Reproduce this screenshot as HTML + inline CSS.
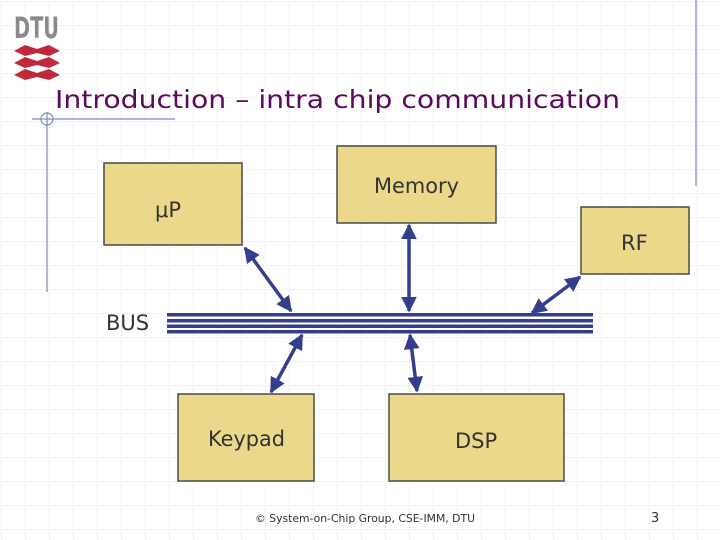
<!DOCTYPE html>
<html><head><meta charset="utf-8"><style>
html,body{margin:0;padding:0;background:#fff}
svg{display:block}
text{font-family:"DejaVu Sans","Liberation Sans",sans-serif}
</style></head><body>
<svg width="720" height="540" viewBox="0 0 720 540" xmlns="http://www.w3.org/2000/svg">
<defs>
<pattern id="g" x="1" y="1" width="24" height="24" patternUnits="userSpaceOnUse">
<path d="M0 0H24M0 0V24" stroke="#cfcfcf" stroke-width="1" stroke-dasharray="1 1" fill="none"/>
</pattern>
<marker id="a" viewBox="0 0 10 10" refX="9" refY="5" markerWidth="4.5" markerHeight="4.5" orient="auto-start-reverse">
<path d="M0 0L10 5L0 10z" fill="#333f8c"/>
</marker>
</defs>
<rect width="720" height="540" fill="url(#g)"/>
<text x="14" y="38" font-size="29" font-weight="bold" fill="#8a8a8a" textLength="45" lengthAdjust="spacingAndGlyphs">DTU</text>
<g fill="#c0283c">
<path d="M14 51 L25 45 L37 49 L49 45 L60 51 L49 56 L37 53 L25 56Z"/>
<path d="M14 63 L25 57 L37 61 L49 57 L60 63 L49 68 L37 65 L25 68Z"/>
<path d="M14 75 L25 69 L37 73 L49 69 L60 75 L49 80 L37 77 L25 80Z"/>
</g>
<text x="55" y="108" font-size="25" fill="#5a0a5a" textLength="565" lengthAdjust="spacingAndGlyphs">Introduction – intra chip communication</text>
<g stroke="#7f8cb4" stroke-width="1.2" fill="none">
<line x1="32" y1="119" x2="175" y2="119"/>
<line x1="47" y1="112" x2="47" y2="292"/>
<circle cx="47" cy="119" r="6"/>
<line x1="696" y1="0" x2="696" y2="186"/>
</g>
<g fill="#ecd88a" stroke="#4a4a4a" stroke-width="1.5">
<rect x="104" y="163" width="138" height="82"/>
<rect x="337" y="146" width="159" height="77"/>
<rect x="581" y="207" width="108" height="67"/>
<rect x="178" y="394" width="136" height="87"/>
<rect x="389" y="394" width="175" height="87"/>
</g>
<g font-size="21" fill="#333">
<text x="155" y="217" font-family="Liberation Sans">μP</text>
<text x="374" y="193" textLength="85" lengthAdjust="spacingAndGlyphs">Memory</text>
<text x="621" y="250">RF</text>
<text x="208" y="446" textLength="77" lengthAdjust="spacingAndGlyphs">Keypad</text>
<text x="455" y="448">DSP</text>
<text x="106" y="330">BUS</text>
</g>
<g fill="#333f8c">
<rect x="167" y="313" width="426" height="3.5"/>
<rect x="167" y="319" width="426" height="3.5"/>
<rect x="167" y="324.5" width="426" height="3.5"/>
<rect x="167" y="330" width="426" height="3.5"/>
</g>
<g stroke="#333f8c" stroke-width="3.5" marker-start="url(#a)" marker-end="url(#a)">
<line x1="245" y1="248" x2="291" y2="311"/>
<line x1="409" y1="225" x2="409" y2="311"/>
<line x1="580" y1="277" x2="532" y2="313"/>
<line x1="302" y1="335" x2="271" y2="392"/>
<line x1="410" y1="335" x2="417" y2="391"/>
</g>
<text x="255" y="522" font-size="11" fill="#333" textLength="220" lengthAdjust="spacingAndGlyphs">© System-on-Chip Group, CSE-IMM, DTU</text>
<text x="651" y="522" font-size="13" fill="#333">3</text>
</svg>
</body></html>
